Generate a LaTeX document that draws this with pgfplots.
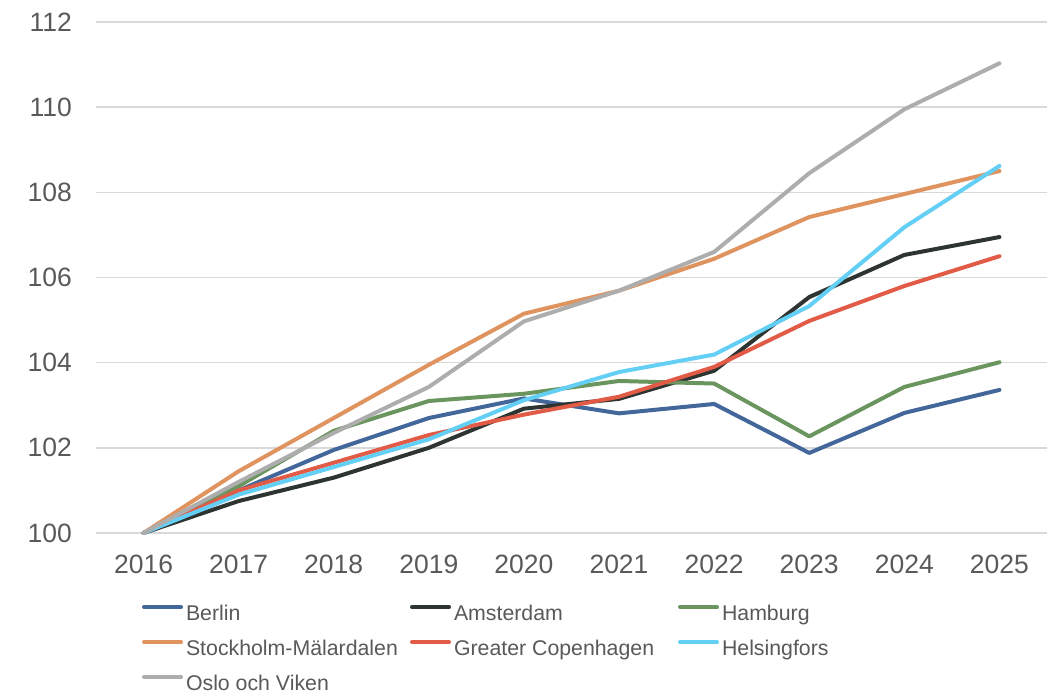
\documentclass[border=0pt]{standalone}
\usepackage{fontspec}
\setmainfont{Liberation Sans}
\usepackage{pgfplots}
\usepackage{pgfplotstable}
\pgfplotsset{compat=1.18}
\definecolor{cBer}{HTML}{43679B}
\definecolor{cAms}{HTML}{2E3431}
\definecolor{cHam}{HTML}{6B955E}
\definecolor{cSto}{HTML}{DF935F}
\definecolor{cCop}{HTML}{E15B47}
\definecolor{cHel}{HTML}{64CFF5}
\definecolor{cOsl}{HTML}{ADADAD}
\definecolor{cGrid}{HTML}{D9D9D9}
\definecolor{cTxt}{HTML}{595959}
\pgfplotstableread{
year Berlin Amsterdam Hamburg Stockholm Copenhagen Helsingfors Oslo
2016 100    100    100    100    100    100    100
2017 101.00 100.75 101.10 101.45 101.00 100.90 101.20
2018 101.95 101.30 102.40 102.70 101.65 101.55 102.35
2019 102.70 102.00 103.10 103.95 102.30 102.20 103.43
2020 103.16 102.92 103.27 105.15 102.78 103.12 104.97
2021 102.81 103.15 103.57 105.69 103.20 103.78 105.69
2022 103.03 103.81 103.51 106.44 103.90 104.19 106.60
2023 101.88 105.54 102.27 107.42 104.98 105.33 108.45
2024 102.82 106.53 103.43 107.96 105.80 107.18 109.95
2025 103.36 106.95 104.01 108.50 106.50 108.62 111.03
}\data
\begin{document}
\begin{tikzpicture}
\begin{axis}[
  scale only axis,
  width=951bp, height=511bp,
  xmin=2015.5, xmax=2025.5,
  ymin=100, ymax=112,
  ytick={100,102,...,112},
  xtick={2016,...,2025},
  xticklabels={2016,2017,2018,2019,2020,2021,2022,2023,2024,2025},
  axis line style={draw=none},
  major tick length=0pt,
  ymajorgrids,
  grid style={cGrid, line width=1.5bp},
  clip=false,
  /pgf/number format/assume math mode=true,
  tick label style={font=\fontsize{26.5bp}{30bp}\selectfont, text=cTxt, inner sep=0pt},
  yticklabel style={xshift=-24bp},
  xticklabel style={yshift=-22bp},
  every axis plot/.append style={line width=4bp, line join=round, line cap=round},
  legend columns=3,
  legend cell align=left,
  legend image code/.code={\draw[#1, line width=4bp, line cap=round] (2bp,7.5bp) -- (39bp,7.5bp);},
  legend style={at={(rel axis cs:0.0484,-0.140)}, anchor=north west, draw=none,
    inner sep=0pt, outer sep=0pt,
    font=\fontsize{21.3bp}{24bp}\selectfont, text=cTxt,
    nodes={inner sep=0pt, text height=15.5bp, text depth=4.5bp},
    row sep=15bp,
    /tikz/every odd column/.append style={column sep=3bp},
    /tikz/every even column/.append style={column sep=0bp}},
]
\addplot[cBer] table[x=year,y=Berlin]{\data};
\addlegendentry{\makebox[224bp][l]{Berlin}}
\addplot[cAms] table[x=year,y=Amsterdam]{\data};
\addlegendentry{\makebox[224bp][l]{Amsterdam}}
\addplot[cHam] table[x=year,y=Hamburg]{\data};
\addlegendentry{\makebox[224bp][l]{Hamburg}}
\addplot[cSto] table[x=year,y=Stockholm]{\data};
\addlegendentry{\makebox[224bp][l]{Stockholm-Mälardalen}}
\addplot[cCop] table[x=year,y=Copenhagen]{\data};
\addlegendentry{\makebox[224bp][l]{Greater Copenhagen}}
\addplot[cHel] table[x=year,y=Helsingfors]{\data};
\addlegendentry{\makebox[224bp][l]{Helsingfors}}
\addplot[cOsl] table[x=year,y=Oslo]{\data};
\addlegendentry{\makebox[224bp][l]{Oslo och Viken}}
\coordinate (bl) at (rel axis cs:0,0);
\coordinate (tr) at (rel axis cs:1,1);
\end{axis}
\path (bl) ++(-96bp,-162bp) coordinate (A);
\path (tr) ++(8bp,22bp) coordinate (B);
\pgfresetboundingbox
\path (A) rectangle (B);
\end{tikzpicture}
\end{document}
